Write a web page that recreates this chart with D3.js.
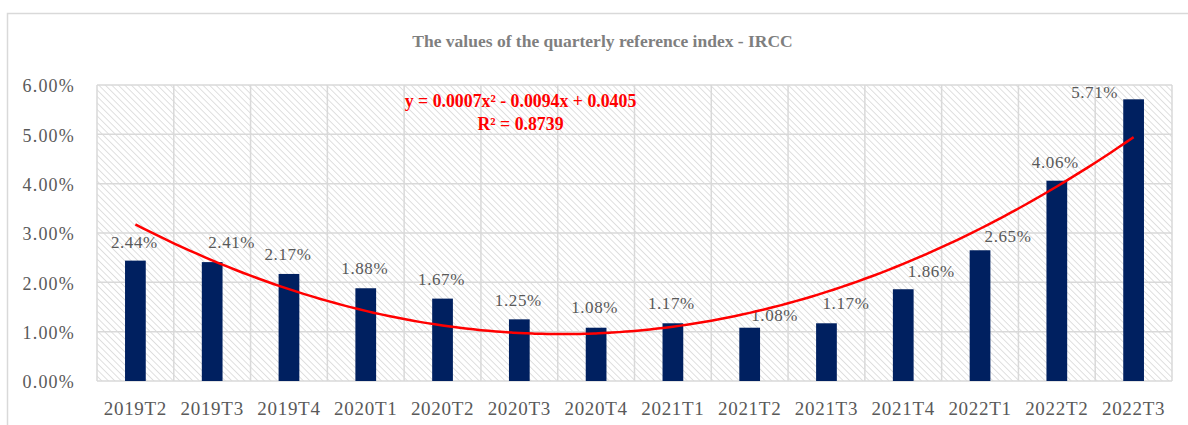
<!DOCTYPE html>
<html><head><meta charset="utf-8">
<script src="https://cdn.jsdelivr.net/npm/d3@7"></script>
<style>body{margin:0;background:#fff}svg{display:block}</style>
</head><body>
<svg id="c" width="1188" height="425"></svg>
<script>
const categories = ["2019T2","2019T3","2019T4","2020T1","2020T2","2020T3","2020T4","2021T1","2021T2","2021T3","2021T4","2022T1","2022T2","2022T3"];
const values = [2.44,2.41,2.17,1.88,1.67,1.25,1.08,1.17,1.08,1.17,1.86,2.65,4.06,5.71];
const yTicks = [0,1,2,3,4,5,6];
const title = "The values of the quarterly reference index - IRCC";
const eqLine1 = "y = 0.0007x² - 0.0094x + 0.0405";
const eqLine2 = "R² = 0.8739";
// label placement offsets (layout only): [dx, dy] relative to bar centre / bar top
const labelOffsets = [[-1,-13],[19.5,-14],[-1,-14],[-1,-14],[-1,-14],[-1,-13],[-1.5,-15],[-1.5,-14],[25,-7],[19.5,-14],[28,-12.6],[28,-8],[-1.5,-13],[-39,-1.5]];

const svg = d3.select("#c");
const m = {left:97, top:85, right:1172, bottom:381};
const serif = "'Liberation Serif','Times New Roman',serif";

// outer frame
svg.append("rect").attr("x",7.5).attr("y",13.5).attr("width",1200).attr("height",500)
  .attr("fill","#fff").attr("stroke","#d9d9d9").attr("stroke-width",1.5);

const defs = svg.append("defs");
const pat = defs.append("pattern").attr("id","hatch").attr("patternUnits","userSpaceOnUse")
  .attr("width",4.6).attr("height",4.6).attr("patternTransform","rotate(-45)");
pat.append("rect").attr("width",4.6).attr("height",4.6).attr("fill","#fff");
pat.append("line").attr("x1",0).attr("y1",0).attr("x2",0).attr("y2",4.6)
  .attr("stroke","#d6d6d6").attr("stroke-width",1.5);

const x = d3.scaleBand().domain(categories).range([m.left,m.right]).paddingInner(0.73).paddingOuter(0.365);
const xb = d3.scaleBand().domain(categories).range([m.left,m.right]);
const y = d3.scaleLinear().domain([0,6]).range([m.bottom,m.top]);

svg.append("rect").attr("x",m.left).attr("y",m.top).attr("width",m.right-m.left).attr("height",m.bottom-m.top)
  .attr("fill","url(#hatch)");

// gridlines
const g = svg.append("g");
g.selectAll(".hg").data(yTicks).join("line")
  .attr("x1",m.left).attr("x2",m.right).attr("y1",d=>y(d)).attr("y2",d=>y(d))
  .attr("stroke","#d9d9d9").attr("stroke-width",1.5);
const vb = categories.map(c=>xb(c)).concat([m.right]);
g.selectAll(".vg").data(vb).join("line")
  .attr("x1",d=>d).attr("x2",d=>d).attr("y1",m.top).attr("y2",m.bottom)
  .attr("stroke","#d9d9d9").attr("stroke-width",1.5);

// y axis labels
const yAxis = d3.axisLeft(y).tickValues(yTicks).tickFormat(d=>d.toFixed(2)+"%").tickSize(0).tickPadding(0);
const ya = svg.append("g").attr("transform",`translate(${m.left-22},0)`).call(yAxis);
ya.select(".domain").remove();
ya.selectAll("text").attr("font-family",serif).attr("font-size",18).attr("letter-spacing","1.2px")
  .attr("fill","#595959").attr("dy","0.38em");

// x axis labels
const xAxis = d3.axisBottom(xb).tickSize(0).tickPadding(0);
const xa = svg.append("g").attr("transform",`translate(0,${m.bottom+20})`).call(xAxis);
xa.select(".domain").remove();
xa.selectAll("text").attr("font-family",serif).attr("font-size",19).attr("letter-spacing","0.7px")
  .attr("fill","#595959").attr("dy","0.71em");

// bars
svg.selectAll(".bar").data(values).join("rect")
  .attr("x",(d,i)=>x(categories[i])).attr("width",x.bandwidth())
  .attr("y",d=>y(d)).attr("height",d=>y(0)-y(d)).attr("fill","#002060");

// data labels
svg.selectAll(".lbl").data(values).join("text")
  .attr("x",(d,i)=>xb(categories[i])+xb.bandwidth()/2+labelOffsets[i][0])
  .attr("y",(d,i)=>y(d)+labelOffsets[i][1])
  .attr("text-anchor","middle").attr("font-family",serif).attr("font-size",17).attr("letter-spacing","0.6px")
  .attr("fill","#595959")
  .text(d=>d.toFixed(2)+"%");

// polynomial (order 2) least squares trend
const n = values.length;
const xs = values.map((d,i)=>i+1);
const ys = values.map(d=>d/100);
let S = [[0,0,0],[0,0,0],[0,0,0]], T=[0,0,0];
for(let i=0;i<n;i++){const p=[1,xs[i],xs[i]*xs[i]];for(let a=0;a<3;a++){T[a]+=p[a]*ys[i];for(let b=0;b<3;b++)S[a][b]+=p[a]*p[b];}}
function solve(A,b){A=A.map((r,i)=>r.concat([b[i]]));const k=A.length;
  for(let i=0;i<k;i++){let mx=i;for(let r=i+1;r<k;r++)if(Math.abs(A[r][i])>Math.abs(A[mx][i]))mx=r;[A[i],A[mx]]=[A[mx],A[i]];
    for(let r=0;r<k;r++){if(r===i)continue;const f=A[r][i]/A[i][i];for(let c=i;c<=k;c++)A[r][c]-=f*A[i][c];}}
  return A.map((r,i)=>r[k]/r[i]);}
const coef = solve(S,T);
const fx = t=>coef[0]+coef[1]*t+coef[2]*t*t;
const pts = d3.range(1,14.001,0.1).map(t=>[m.left+(t-0.5)*xb.bandwidth(), y(fx(t)*100)]);
svg.append("path").attr("d",d3.line().curve(d3.curveMonotoneX)(pts))
  .attr("fill","none").attr("stroke","#ff0000").attr("stroke-width",2.5);

// equation
svg.append("text").attr("x",520.5).attr("y",107).attr("text-anchor","middle")
  .attr("font-family",serif).attr("font-weight","bold").attr("font-size",17.8).attr("fill","#ff0000").text(eqLine1);
svg.append("text").attr("x",520.5).attr("y",130).attr("text-anchor","middle")
  .attr("font-family",serif).attr("font-weight","bold").attr("font-size",17.8).attr("fill","#ff0000").text(eqLine2);

// title
svg.append("text").attr("x",602.5).attr("y",47).attr("text-anchor","middle")
  .attr("font-family",serif).attr("font-weight","bold").attr("font-size",17.5).attr("fill","#7f7f7f").text(title);
</script>
</body></html>
